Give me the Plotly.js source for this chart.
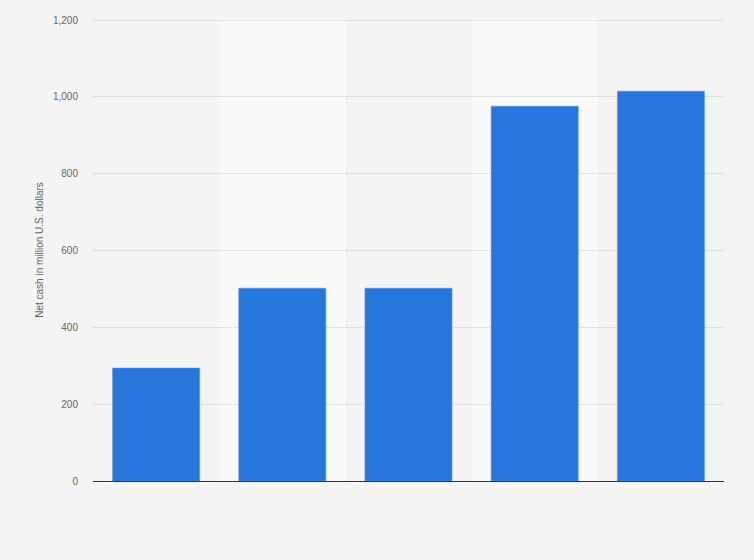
<!DOCTYPE html>
<html>
<head>
<meta charset="utf-8">
<script src="https://cdn.plot.ly/plotly-3.0.1.min.js"></script>
<style>
	html, body { margin: 0; padding: 0; background: #f4f4f4; }
	#plot { width: 754px; height: 560px; }
</style>
</head>
<body>
<div id="plot"></div>
<script>
// no category labels are printed in the source chart
const categories = ["A", "B", "C", "D", "E"];
const netCash = [294, 502, 502, 976, 1015];
const yTicks = [0, 200, 400, 600, 800, 1000, 1200];
const yTickLabels = ["0", "200", "400", "600", "800", "1,000", "1,200"];

// lighter bands behind every second category
const bandShapes = categories
	.map((cat, i) => i)
	.filter((i) => i % 2 === 1)
	.map((i) => ({
		type: "rect",
		xref: "x",
		yref: "paper",
		x0: i - 0.5,
		x1: i + 0.5,
		y0: 0,
		y1: 1,
		fillcolor: "#f9f9f9",
		line: { width: 0 },
		layer: "below",
	}));

const trace = {
	x: categories,
	y: netCash,
	type: "bar",
	marker: {
		color: "#2676db",
		line: { color: "#5a95e4", width: 0.6 },
	},
	hoverinfo: "y",
};

const layout = {
	width: 754,
	height: 560,
	margin: { l: 93, r: 30, t: 19, b: 79 },
	paper_bgcolor: "#f4f4f4",
	plot_bgcolor: "#f4f4f4",
	font: { family: "Arial, Liberation Sans, sans-serif", size: 10, color: "#666666" },
	bargap: 0.31,
	showlegend: false,
	shapes: bandShapes,
	xaxis: {
		type: "category",
		showticklabels: false,
		showgrid: false,
		zeroline: false,
		showline: true,
		linecolor: "#333333",
		linewidth: 1,
		ticks: "",
		fixedrange: true,
	},
	yaxis: {
		range: [0, 1203],
		tickvals: yTicks,
		ticktext: yTickLabels,
		showgrid: true,
		gridcolor: "#cccccc",
		griddash: "1px,1px",
		gridwidth: 1,
		zeroline: false,
		showline: false,
		ticks: "",
		ticklabelstandoff: 14,
		tickfont: { size: 10, color: "#666666" },
		title: {
			text: "Net cash in million U.S. dollars",
			font: { size: 10, color: "#666666" },
			standoff: 7,
		},
		fixedrange: true,
	},
};

Plotly.newPlot("plot", [trace], layout, { displayModeBar: false, staticPlot: true });
</script>
</body>
</html>
